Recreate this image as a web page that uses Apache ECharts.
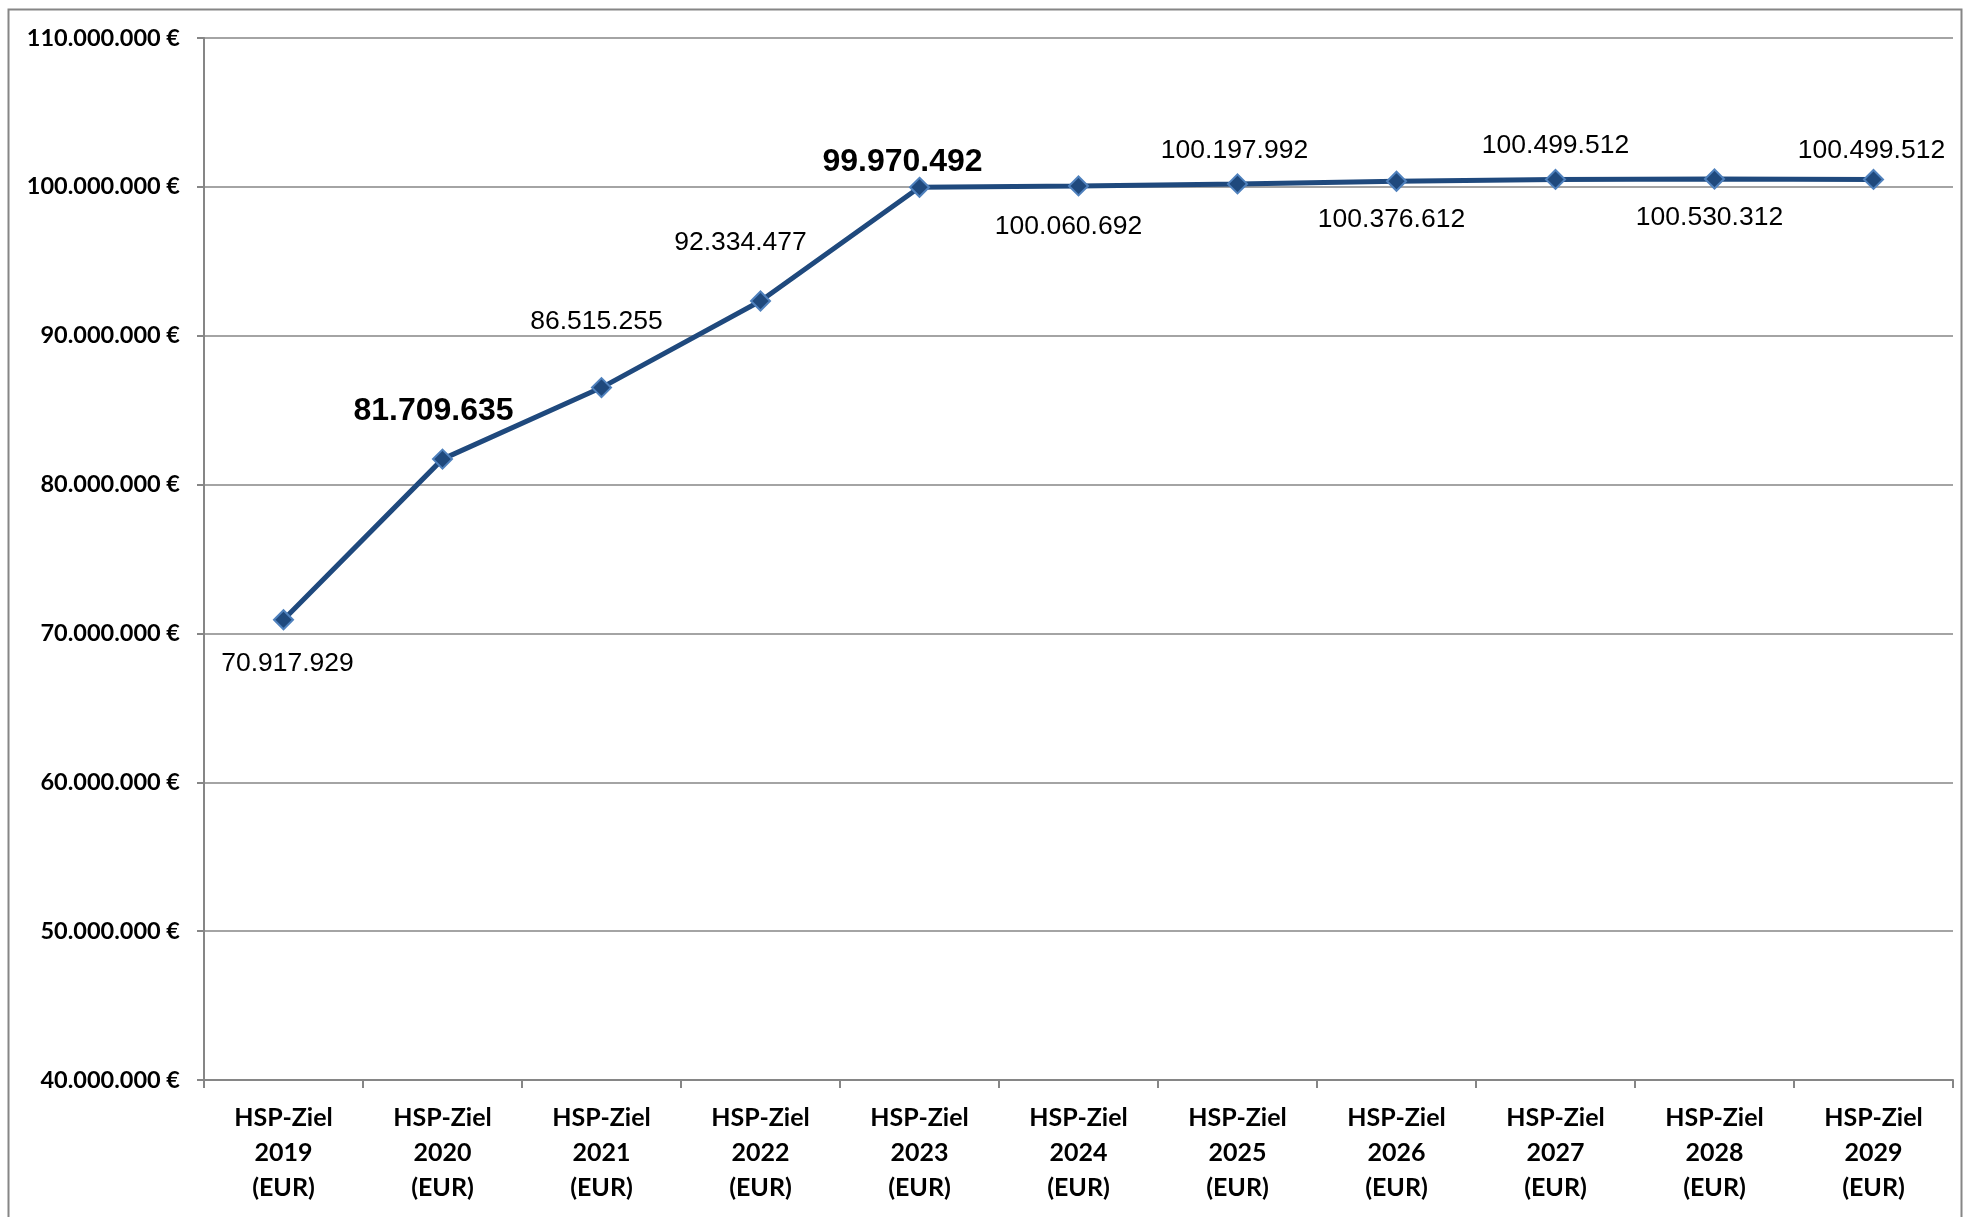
<!DOCTYPE html>
<html>
<head>
<meta charset="utf-8">
<title>HSP-Ziel</title>
<script src="https://cdn.jsdelivr.net/npm/echarts@6/dist/echarts.min.js"></script>
<style>
    html, body { margin: 0; padding: 0; background: #fff; }
    #main { width: 1977px; height: 1217px; }
</style>
</head>
<body>
<div id="main"></div>
<script>
    // Daten
    var years = ['2019', '2020', '2021', '2022', '2023', '2024', '2025', '2026', '2027', '2028', '2029'];
    var categories = years.map(function (y) { return 'HSP-Ziel\n' + y + '\n(EUR)'; });
    var hspValues = [70917929, 81709635, 86515255, 92334477, 99970492, 100060692,
        100197992, 100376612, 100499512, 100530312, 100499512];
    var valueLabels = ['70.917.929', '81.709.635', '86.515.255', '92.334.477', '99.970.492', '100.060.692',
        '100.197.992', '100.376.612', '100.499.512', '100.530.312', '100.499.512'];
    var boldLabels = [false, true, false, false, true, false, false, false, false, false, false];
    var yTicks = [40000000, 50000000, 60000000, 70000000, 80000000, 90000000, 100000000, 110000000];

    // Lage der Beschriftungen relativ zum Punkt (wie im Excel-Diagramm verschoben)
    var labelShift = [[4, 44], [-9, -48], [-5, -66], [-20, -58], [-17, -25], [-10, 41],
        [-3, -33], [-5, 38], [0, -34], [-5, 39], [-2, -29]];

    function euro(v) {
        return String(v).replace(/\B(?=(\d{3})+(?!\d))/g, '.') + ' \u20ac';
    }

    var seriesData = hspValues.map(function (v, i) {
        return {
            value: v,
            label: {
                show: true,
                position: 'inside',
                offset: labelShift[i],
                formatter: valueLabels[i],
                fontFamily: '"Liberation Sans", Arial, sans-serif',
                fontSize: boldLabels[i] ? 32 : 26.5,
                fontWeight: boldLabels[i] ? 'bold' : 'normal',
                color: '#000'
            }
        };
    });

    var myChart = echarts.init(document.getElementById('main'));
    var option = {
        animation: false,
        backgroundColor: '#fff',
        graphic: [{
            type: 'rect',
            shape: { x: 8.5, y: 9.5, width: 1953, height: 1240 },
            style: { fill: 'none', stroke: '#868686', lineWidth: 2 },
            silent: true
        }],
        grid: { left: 204, right: 24, top: 38, bottom: 137 },
        xAxis: {
            type: 'category',
            data: categories,
            boundaryGap: true,
            axisLine: { lineStyle: { color: '#868686', width: 2 } },
            axisTick: { show: true, length: 8, lineStyle: { color: '#868686', width: 2 } },
            axisLabel: {
                margin: 20,
                interval: 0,
                lineHeight: 35,
                fontFamily: 'Lato, "Open Sans", sans-serif',
                fontWeight: 'bold',
                fontSize: 25,
                color: '#000'
            }
        },
        yAxis: {
            type: 'value',
            min: yTicks[0],
            max: yTicks[yTicks.length - 1],
            interval: yTicks[1] - yTicks[0],
            axisLine: { show: true, lineStyle: { color: '#868686', width: 2 } },
            axisTick: { show: true, length: 7, lineStyle: { color: '#868686', width: 2 } },
            splitLine: { lineStyle: { color: '#868686', width: 1.5 } },
            axisLabel: {
                margin: 24,
                formatter: euro,
                fontFamily: 'Lato, "Open Sans", sans-serif',
                fontWeight: 'bold',
                fontSize: 23.5,
                color: '#000'
            }
        },
        series: [{
            name: 'HSP-Ziel',
            type: 'line',
            data: seriesData,
            symbol: 'diamond',
            symbolSize: 19,
            lineStyle: { color: '#1F497D', width: 5 },
            itemStyle: { color: '#1F497D', borderColor: '#4F81BD', borderWidth: 2 },
            z: 3
        }]
    };
    myChart.setOption(option);
</script>
</body>
</html>
